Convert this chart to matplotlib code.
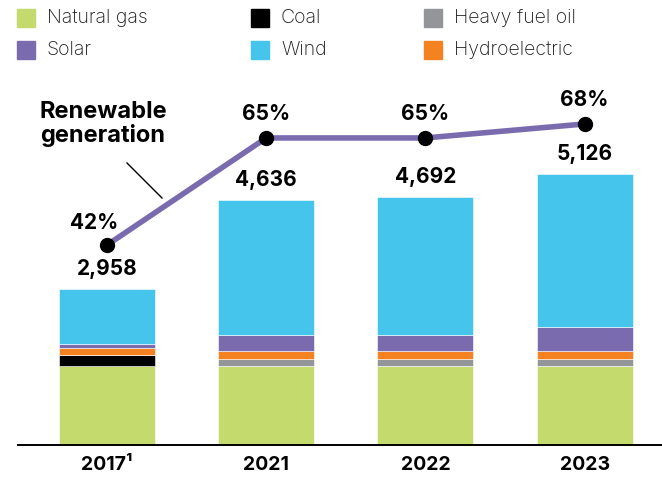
import matplotlib.pyplot as plt
from matplotlib.patches import Rectangle
from matplotlib.lines import Line2D

plt.rcParams['font.family'] = ['Inter', 'DejaVu Sans']

# Generation by source (GWh) and renewable share
years = ['2017¹', '2021', '2022', '2023']
natural_gas = [1489, 1495, 1495, 1495]
coal = [207, 0, 0, 0]
heavy_fuel_oil = [0, 138, 138, 138]
hydroelectric = [145, 140, 140, 140]
solar = [70, 314, 314, 454]
wind = [1047, 2549, 2605, 2899]
renewable_pct = [42, 65, 65, 68]

series = [
    ('Natural gas', natural_gas, '#C5DA6C'),
    ('Coal', coal, '#000000'),
    ('Heavy fuel oil', heavy_fuel_oil, '#939598'),
    ('Hydroelectric', hydroelectric, '#F58220'),
    ('Solar', solar, '#7A6BAF'),
    ('Wind', wind, '#45C5EC'),
]
colors = {name: c for name, _, c in series}

W, H = 662, 478
fig = plt.figure(figsize=(W / 100, H / 100), dpi=100)
ax = fig.add_axes([18 / W, 33 / H, 644 / W, 355 / H])

x = list(range(len(years)))
bottom = [0] * len(years)
for name, vals, col in series:
    ax.bar(x, vals, width=0.603, bottom=bottom, color=col,
           edgecolor='white', linewidth=0.4)
    bottom = [b + v for b, v in zip(bottom, vals)]

for xi, tot in zip(x, bottom):
    ax.annotate(f'{tot:,}', (xi, tot), xytext=(0, 20), textcoords='offset pixels',
                ha='center', va='center', fontsize=15, fontweight='bold')

ax.set_xlim(-0.559, 3.486)
ax.set_ylim(0, 6711)
ax.set_xticks(x)
ax.set_xticklabels(years, fontsize=14, fontweight='bold')
ax.tick_params(axis='x', length=0, pad=8)
ax.set_yticks([])
for s in ['top', 'right', 'left']:
    ax.spines[s].set_visible(False)
ax.spines['bottom'].set_linewidth(1.4)

# Renewable share line on its own scale
ax2 = ax.twinx()
ax2.set_ylim(-0.97, 75.3)
ax2.axis('off')
ax2.plot(x, renewable_pct, color='#7A6BAF', lw=4, solid_capstyle='round', zorder=3)
ax2.plot(x, renewable_pct, 'o', color='black', ms=10, zorder=4, clip_on=False)
for i, (xi, p) in enumerate(zip(x, renewable_pct)):
    dx = -13 if i == 0 else 0
    dy = 22 if i == 0 else 24
    ax2.annotate(f'{p}%', (xi, p), xytext=(dx, dy), textcoords='offset pixels',
                 ha='center', va='center', fontsize=15, fontweight='bold')

fig.text(103 / W, 1 - 124 / H, 'Renewable\ngeneration', ha='center', va='center',
         fontsize=17, fontweight='bold', linespacing=1.1)
fig.add_artist(Line2D([127 / W, 162 / W], [1 - 163 / H, 1 - 198 / H],
                      color='black', lw=1))

# Legend
legend = [
    ('Natural gas', 17, 18), ('Coal', 251, 18), ('Heavy fuel oil', 424, 18),
    ('Solar', 17, 50), ('Wind', 251, 50), ('Hydroelectric', 424, 50),
]
for name, lx, ly in legend:
    fig.add_artist(Rectangle((lx / W, 1 - (ly + 9) / H), 18 / W, 18 / H,
                             color=colors[name], transform=fig.transFigure))
    fig.text((lx + 30) / W, 1 - ly / H, name, ha='left', va='center',
             fontsize=14, color='#1a1a1a', fontweight='light')

fig.savefig('out.png', dpi=100)
